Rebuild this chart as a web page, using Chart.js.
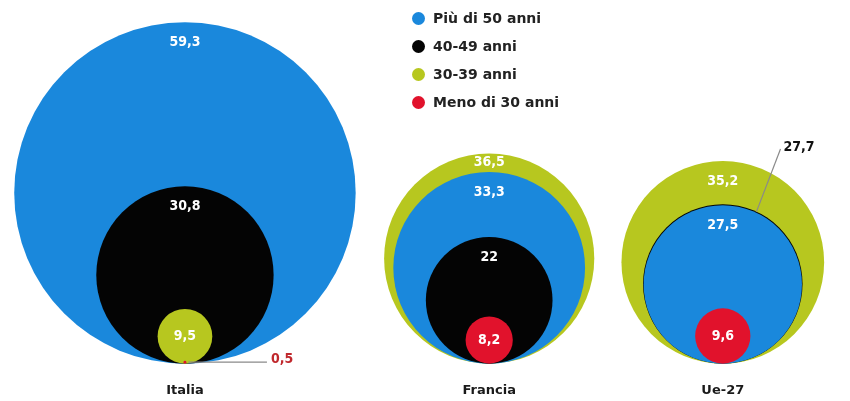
<!DOCTYPE html>
<html lang="it">
<head>
<meta charset="utf-8">
<title>Quote per fascia d'età</title>
<script src="https://cdn.jsdelivr.net/npm/chart.js@4/dist/chart.umd.min.js"></script>
<style>
  html, body { margin: 0; padding: 0; background: #ffffff; }
  #wrap { position: relative; width: 850px; height: 401px; }
  #legend {
    position: absolute; left: 412px; top: 4px; margin: 0; padding: 0; list-style: none;
    font: bold 14px "DejaVu Sans", "Liberation Sans", Arial, sans-serif;
    color: #222222;
  }
  #legend li { height: 28px; display: flex; align-items: center; }
  #legend .dot { width: 13px; height: 13px; border-radius: 50%; margin-right: 8px; }
</style>
</head>
<body>
<div id="wrap">
  <canvas id="chart" width="850" height="401"></canvas>
  <ul id="legend"></ul>
</div>
<script>
// Shares (%) by age group, one value per country
const countries = ['Italia', 'Francia', 'Ue-27'];
const ageGroups = ['Più di 50 anni', '40-49 anni', '30-39 anni', 'Meno di 30 anni'];
const over50  = [59.3, 33.3, 27.5];
const age4049 = [30.8, 22, 27.7];
const age3039 = [9.5, 36.5, 35.2];
const under30 = [0.5, 8.2, 9.6];

const seriesValues = [over50, age4049, age3039, under30];

// Styling
const fillColors  = ['#1a88dc', '#040404', '#b7c71f', '#e1122c'];
const textColors  = ['#1a6fc0', '#111111', '#8c9c12', '#c0282d'];
const LABEL_FONT  = '"DejaVu Sans Condensed", "Liberation Sans Narrow", "Liberation Sans", Arial, sans-serif';
const AXIS_FONT   = '"DejaVu Sans", "Liberation Sans", Arial, sans-serif';

// Axis ranges in share units (same pixel size on x and y so circles stay round)
const Y_MIN = -2.7, Y_MAX = 126.3;
const X_MIN = 0, X_MAX = 290;
const LEFT_EDGE = 3.8, GROUP_GAP = 8;

function fmt(v) {
  return Number.isInteger(v) ? String(v) : v.toFixed(1).replace('.', ',');
}

// Groups are packed side by side: each one as wide as its largest circle
const outerValue = countries.map((_, ci) => Math.max(...seriesValues.map(s => s[ci])));
const centers = [];
let edge = LEFT_EDGE;
outerValue.forEach(v => { centers.push(edge + v); edge += 2 * v + GROUP_GAP; });

// Pixel radius of a share
function radiusFor(ctx) {
  if (!ctx.raw) return 0;
  const y = ctx.chart.scales.y;
  return y.getPixelForValue(0) - y.getPixelForValue(ctx.raw.v);
}

// One dataset per country; circles sit on a common baseline (y = 0),
// centre at y = value and radius = value, larger circles drawn first
const datasets = countries.map((name, ci) => {
  const pts = seriesValues
    .map((s, si) => ({ x: centers[ci], y: s[ci], v: s[ci], series: si }))
    .sort((a, b) => b.v - a.v);
  return {
    label: name,
    data: pts,
    clip: false,
    pointBackgroundColor: ctx => ctx.raw ? fillColors[ctx.raw.series] : '#000',
    pointBorderWidth: 0,
    pointBorderColor: 'rgba(0,0,0,0)',
    pointRadius: radiusFor,
    pointHoverRadius: radiusFor
  };
});

// Value labels: inside each circle when there is room, otherwise with a leader line
const valueLabels = {
  id: 'valueLabels',
  afterDatasetsDraw(chart) {
    const { ctx } = chart;
    ctx.save();
    ctx.font = 'bold 14px ' + LABEL_FONT;
    ctx.textBaseline = 'middle';
    chart.data.datasets.forEach((ds, di) => {
      const meta = chart.getDatasetMeta(di);
      const first = meta.data[0];
      const outerTop = first.y - first.options.radius;
      meta.data.forEach((el, i) => {
        const raw = ds.data[i];
        const r = el.options.radius;
        const top = el.y - r;
        const next = meta.data[i + 1];
        const ring = next ? (next.y - next.options.radius) - top : Infinity;
        const text = fmt(raw.v);
        if (r < 10) {
          // tiny circle: horizontal leader to the right along the baseline
          ctx.strokeStyle = '#8a8a8a';
          ctx.lineWidth = 1.2;
          ctx.beginPath();
          ctx.moveTo(el.x + r + 2, el.y);
          ctx.lineTo(el.x + 82, el.y);
          ctx.stroke();
          ctx.fillStyle = textColors[raw.series];
          ctx.textAlign = 'left';
          ctx.fillText(text, el.x + 86, el.y - 3);
        } else if (ring < 16) {
          // ring too thin for its label: diagonal leader above the group
          const a = -65 * Math.PI / 180;
          const sx = el.x + r * Math.cos(a), sy = el.y + r * Math.sin(a);
          const ex = sx + 24, ey = outerTop - 12;
          ctx.strokeStyle = '#8a8a8a';
          ctx.lineWidth = 1.2;
          ctx.beginPath();
          ctx.moveTo(sx, sy);
          ctx.lineTo(ex, ey);
          ctx.stroke();
          ctx.fillStyle = textColors[raw.series];
          ctx.textAlign = 'left';
          ctx.fillText(text, ex + 3, ey - 2);
        } else {
          const y = r < 40 ? el.y : top + Math.min(ring / 2, 20);
          ctx.fillStyle = '#ffffff';
          ctx.textAlign = 'center';
          ctx.fillText(text, el.x, y);
        }
      });
    });
    ctx.restore();
  }
};

const chart = new Chart(document.getElementById('chart'), {
  type: 'scatter',
  data: { datasets },
  options: {
    responsive: false,
    animation: false,
    events: [],
    layout: { padding: 0 },
    plugins: { legend: { display: false }, tooltip: { enabled: false } },
    scales: {
      x: {
        type: 'linear',
        min: X_MIN, max: X_MAX,
        grid: { display: false },
        border: { display: false },
        afterBuildTicks: scale => { scale.ticks = centers.map(v => ({ value: v })); },
        ticks: {
          autoSkip: false,
          maxRotation: 0,
          padding: 3,
          color: '#1a1a1a',
          font: { family: AXIS_FONT, size: 13, weight: 'bold' },
          callback: (value, index) => countries[index]
        }
      },
      y: {
        type: 'linear',
        display: false,
        min: Y_MIN, max: Y_MAX
      }
    }
  },
  plugins: [valueLabels]
});

// Legend for the age groups
const legend = document.getElementById('legend');
ageGroups.forEach((g, i) => {
  const li = document.createElement('li');
  const dot = document.createElement('span');
  dot.className = 'dot';
  dot.style.background = fillColors[i];
  li.appendChild(dot);
  li.appendChild(document.createTextNode(g));
  legend.appendChild(li);
});
</script>
</body>
</html>
